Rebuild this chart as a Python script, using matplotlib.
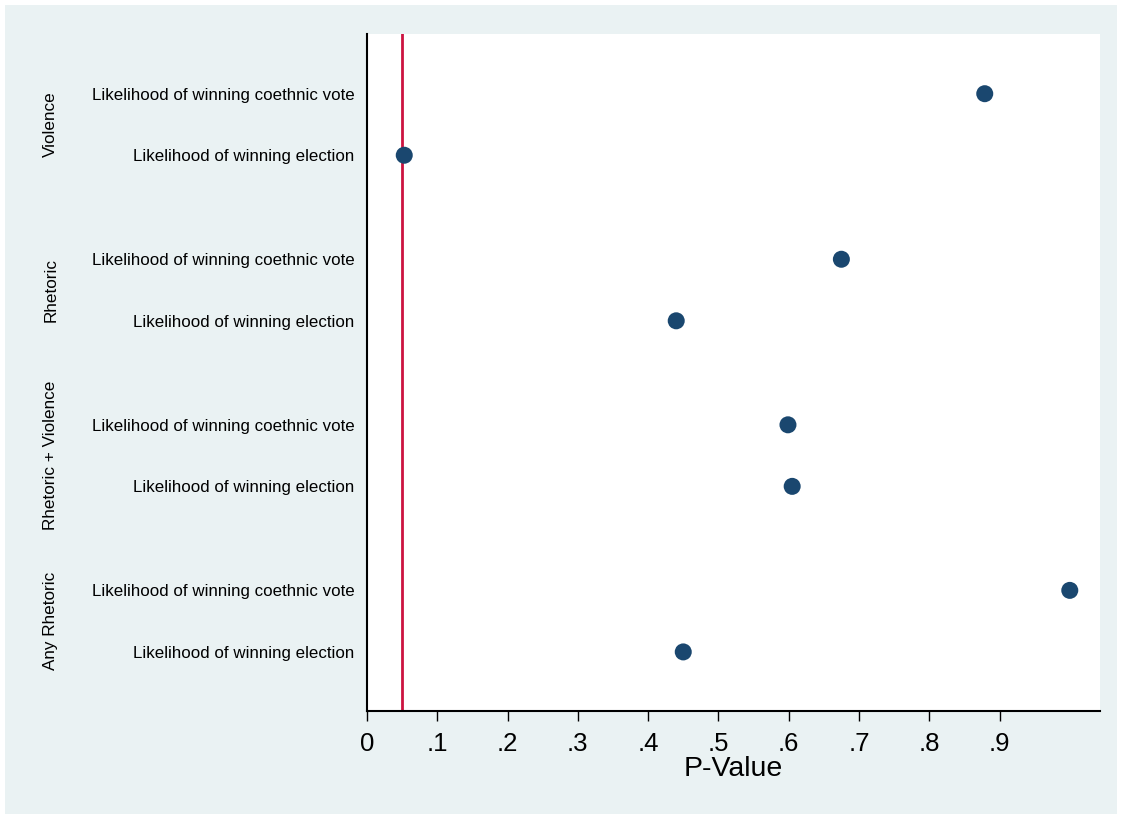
import matplotlib
matplotlib.use("Agg")
import matplotlib.pyplot as plt
from matplotlib.patches import Rectangle

groups = ["Violence", "Rhetoric", "Rhetoric + Violence", "Any Rhetoric"]
items = ["Likelihood of winning coethnic vote", "Likelihood of winning election"]
pvalues = [
    [0.879, 0.053],
    [0.675, 0.440],
    [0.599, 0.605],
    [1.000, 0.450],
]
threshold = 0.05
xticks = [0, .1, .2, .3, .4, .5, .6, .7, .8, .9]
xticklabels = ["0", ".1", ".2", ".3", ".4", ".5", ".6", ".7", ".8", ".9"]

plt.rcParams['font.family'] = ['Liberation Sans', 'DejaVu Sans']

fig = plt.figure(figsize=(11.22, 8.19), dpi=100)
fig.patch.set_facecolor('white')
fig.patches.append(Rectangle((5/1122, 5/819), 1112/1122, 809/819, transform=fig.transFigure,
                             facecolor='#EAF2F3', edgecolor='none', zorder=-10))

ax = fig.add_axes([367/1122, 1 - 711/819, (1100-367)/1122, (711-34)/819])
ax.set_facecolor('white')

gap = 2.69
ys, xs, labels = [], [], []
for g, grp in enumerate(groups):
    for i, it in enumerate(items):
        y = g * gap + i
        ys.append(y)
        xs.append(pvalues[g][i])
        labels.append(it)

ax.axvline(threshold, color='#CC1340', lw=2, zorder=1)
ax.scatter(xs, ys, s=150, color='#1A476F', zorder=3, edgecolors='none')

ax.set_ylim(3 * gap + 1 + 0.96, -0.97)
ax.set_xlim(0, 1.043)
ax.set_yticks(ys)
ax.set_yticklabels(labels, fontsize=12.15)
ax.tick_params(axis='y', length=0, pad=9)
ax.set_xticks(xticks)
ax.set_xticklabels(xticklabels, fontsize=18.5)
ax.tick_params(axis='x', length=7, width=1, direction='out', pad=8)
for s in ['top', 'right']:
    ax.spines[s].set_visible(False)
ax.spines['left'].set_linewidth(1.5)
ax.spines['bottom'].set_linewidth(1.5)
ax.set_xlabel("P-Value", fontsize=20.5, labelpad=0)

for g, grp in enumerate(groups):
    yc = g * gap + 0.5
    ax.text(-0.45, yc, grp, rotation=90, ha='center', va='center', fontsize=12.3,
            transform=ax.transData)

fig.savefig("out.png", dpi=100, facecolor=fig.get_facecolor())
